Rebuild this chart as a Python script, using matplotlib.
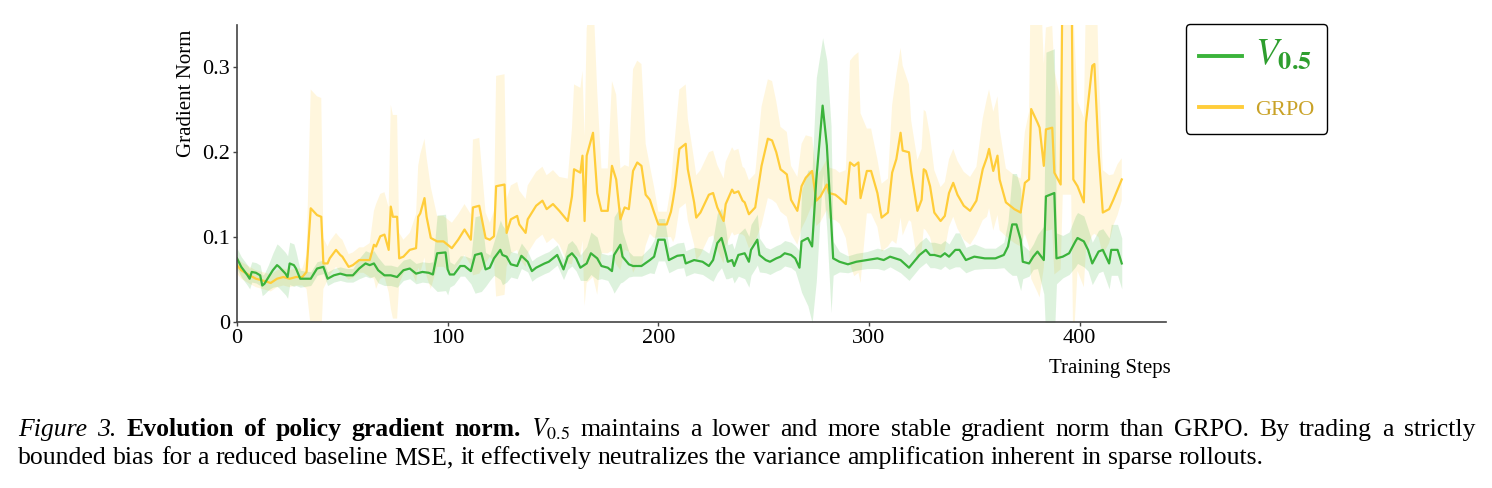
import numpy as np
import matplotlib
matplotlib.use("Agg")
import matplotlib.pyplot as plt

plt.rcParams['font.family'] = 'Liberation Serif'
plt.rcParams['mathtext.fontset'] = 'stix'

# V_0.5 : step, mean gradient norm, band half-width
v05_steps = [0, 2, 5, 6, 7, 9, 11, 12, 13, 15, 17, 19, 20, 23, 24, 25, 27, 28, 30, 35,
             38, 41, 43, 46, 49, 52, 55, 58, 61, 63, 65, 67, 70, 73, 76, 79, 82, 85, 88, 91,
             93, 95, 99, 100, 101, 103, 106, 108, 111, 113, 116, 118, 120, 122, 125, 126, 128, 130, 133, 135,
             138, 140, 142, 146, 148, 152, 155, 157, 159, 161, 163, 166, 168, 171, 173, 176, 178, 179, 182, 183,
             186, 188, 192, 196, 198, 200, 203, 205, 209, 212, 213, 217, 221, 224, 226, 228, 230, 232, 233, 235,
             236, 238, 241, 243, 244, 247, 248, 251, 253, 256, 258, 260, 263, 265, 267, 268, 271, 273, 275, 278,
             280, 282, 283, 286, 290, 294, 299, 304, 307, 310, 315, 319, 322, 324, 327, 329, 331, 334, 336, 338,
             341, 343, 346, 350, 355, 360, 364, 366, 368, 370, 372, 373, 376, 378, 380, 383, 384, 386, 388, 389,
             392, 395, 398, 399, 402, 404, 406, 409, 411, 414, 415, 418, 420]
v05_mean = [0.075, 0.065, 0.055, 0.051, 0.059, 0.058, 0.055, 0.043, 0.045, 0.053, 0.061, 0.067, 0.065, 0.057, 0.053, 0.069, 0.067, 0.063, 0.051, 0.051,
            0.063, 0.065, 0.051, 0.055, 0.057, 0.055, 0.055, 0.063, 0.069, 0.067, 0.069, 0.061, 0.055, 0.055, 0.053, 0.061, 0.063, 0.057, 0.059, 0.058,
            0.056, 0.081, 0.082, 0.062, 0.056, 0.056, 0.066, 0.066, 0.060, 0.079, 0.081, 0.062, 0.064, 0.075, 0.085, 0.079, 0.077, 0.068, 0.066, 0.078,
            0.071, 0.060, 0.064, 0.069, 0.071, 0.079, 0.062, 0.077, 0.081, 0.075, 0.064, 0.069, 0.081, 0.075, 0.066, 0.064, 0.060, 0.079, 0.091, 0.077,
            0.068, 0.066, 0.066, 0.073, 0.077, 0.097, 0.097, 0.073, 0.078, 0.079, 0.069, 0.073, 0.071, 0.066, 0.073, 0.093, 0.099, 0.081, 0.071, 0.073,
            0.066, 0.079, 0.081, 0.071, 0.085, 0.097, 0.079, 0.073, 0.071, 0.075, 0.077, 0.081, 0.079, 0.075, 0.064, 0.095, 0.099, 0.089, 0.168, 0.255,
            0.208, 0.121, 0.075, 0.071, 0.068, 0.071, 0.073, 0.075, 0.073, 0.077, 0.073, 0.064, 0.073, 0.079, 0.085, 0.079, 0.079, 0.077, 0.081, 0.077,
            0.085, 0.085, 0.073, 0.077, 0.075, 0.075, 0.079, 0.089, 0.115, 0.115, 0.097, 0.071, 0.069, 0.077, 0.083, 0.073, 0.148, 0.150, 0.152, 0.075,
            0.077, 0.081, 0.095, 0.099, 0.095, 0.085, 0.069, 0.083, 0.085, 0.069, 0.085, 0.085, 0.069]
v05_spread = [0.012, 0.012, 0.012, 0.012, 0.012, 0.012, 0.012, 0.012, 0.012, 0.015, 0.02, 0.025, 0.025, 0.025, 0.025, 0.025, 0.025, 0.02, 0.01, 0.008,
              0.008, 0.008, 0.008, 0.008, 0.008, 0.008, 0.008, 0.012, 0.015, 0.015, 0.015, 0.015, 0.012, 0.012, 0.012, 0.012, 0.012, 0.012, 0.012, 0.012,
              0.015, 0.045, 0.045, 0.03, 0.015, 0.012, 0.012, 0.012, 0.015, 0.045, 0.045, 0.02, 0.015, 0.02, 0.035, 0.035, 0.03, 0.015, 0.015, 0.015,
              0.012, 0.012, 0.012, 0.012, 0.012, 0.012, 0.012, 0.015, 0.015, 0.015, 0.015, 0.02, 0.025, 0.025, 0.015, 0.015, 0.02, 0.045, 0.045, 0.03,
              0.015, 0.012, 0.012, 0.015, 0.02, 0.025, 0.025, 0.015, 0.015, 0.015, 0.015, 0.015, 0.015, 0.015, 0.025, 0.035, 0.035, 0.03, 0.02, 0.02,
              0.02, 0.025, 0.03, 0.03, 0.03, 0.03, 0.02, 0.015, 0.015, 0.015, 0.015, 0.015, 0.015, 0.015, 0.02, 0.06, 0.08, 0.09, 0.12, 0.08,
              0.1, 0.11, 0.02, 0.012, 0.01, 0.01, 0.01, 0.012, 0.012, 0.012, 0.015, 0.015, 0.015, 0.015, 0.015, 0.015, 0.015, 0.015, 0.015, 0.015,
              0.02, 0.02, 0.015, 0.015, 0.012, 0.012, 0.015, 0.03, 0.06, 0.06, 0.06, 0.02, 0.015, 0.015, 0.02, 0.04, 0.17, 0.17, 0.17, 0.03,
              0.025, 0.025, 0.03, 0.03, 0.03, 0.025, 0.025, 0.025, 0.025, 0.03, 0.03, 0.03, 0.03]

# GRPO : step, mean gradient norm, band half-width
grpo_steps = [0, 2, 6, 9, 12, 16, 19, 22, 25, 28, 31, 33, 35, 38, 40, 41, 43, 44, 47, 49,
              50, 53, 55, 58, 60, 63, 65, 66, 68, 70, 72, 73, 74, 76, 77, 79, 82, 85, 86, 87,
              89, 90, 92, 95, 98, 102, 105, 108, 111, 112, 115, 118, 120, 122, 123, 127, 128, 130, 133, 134,
              137, 138, 142, 145, 147, 150, 153, 157, 159, 160, 163, 164, 165, 166, 169, 171, 173, 176, 178, 180,
              182, 184, 186, 188, 190, 192, 194, 196, 198, 200, 204, 206, 207, 208, 210, 213, 214, 217, 218, 220,
              224, 226, 228, 231, 232, 235, 236, 238, 240, 241, 243, 246, 249, 252, 254, 256, 258, 261, 263, 266,
              268, 270, 273, 275, 277, 280, 281, 284, 286, 289, 291, 293, 295, 296, 299, 301, 304, 306, 309, 311,
              313, 315, 316, 319, 320, 323, 325, 326, 327, 329, 331, 334, 336, 338, 340, 342, 345, 348, 351, 354,
              356, 357, 359, 361, 362, 365, 369, 372, 374, 376, 377, 380, 381, 383, 384, 387, 388, 391, 392, 396,
              397, 399, 402, 403, 406, 407, 409, 411, 414, 416, 418, 420]
grpo_mean = [0.067, 0.061, 0.055, 0.051, 0.049, 0.046, 0.051, 0.053, 0.051, 0.053, 0.053, 0.059, 0.134, 0.126, 0.124, 0.069, 0.069, 0.075, 0.085, 0.079,
             0.077, 0.065, 0.067, 0.073, 0.073, 0.073, 0.091, 0.089, 0.101, 0.103, 0.085, 0.136, 0.124, 0.124, 0.075, 0.077, 0.085, 0.087, 0.124, 0.128,
             0.146, 0.124, 0.099, 0.095, 0.095, 0.087, 0.097, 0.109, 0.097, 0.135, 0.137, 0.099, 0.097, 0.101, 0.160, 0.162, 0.105, 0.121, 0.125, 0.115,
             0.105, 0.121, 0.137, 0.143, 0.133, 0.139, 0.131, 0.119, 0.148, 0.180, 0.176, 0.196, 0.119, 0.196, 0.223, 0.152, 0.131, 0.131, 0.184, 0.168,
             0.121, 0.135, 0.133, 0.178, 0.188, 0.184, 0.150, 0.144, 0.129, 0.115, 0.115, 0.130, 0.144, 0.160, 0.204, 0.210, 0.180, 0.141, 0.123, 0.129,
             0.150, 0.152, 0.135, 0.119, 0.139, 0.156, 0.152, 0.154, 0.143, 0.141, 0.127, 0.135, 0.184, 0.216, 0.214, 0.200, 0.180, 0.174, 0.144, 0.131,
             0.160, 0.170, 0.178, 0.143, 0.148, 0.162, 0.152, 0.150, 0.146, 0.139, 0.188, 0.184, 0.188, 0.146, 0.178, 0.178, 0.152, 0.123, 0.129, 0.176,
             0.192, 0.223, 0.202, 0.200, 0.178, 0.131, 0.144, 0.180, 0.178, 0.160, 0.129, 0.119, 0.125, 0.152, 0.164, 0.150, 0.137, 0.131, 0.143, 0.180,
             0.194, 0.204, 0.178, 0.196, 0.168, 0.141, 0.133, 0.129, 0.164, 0.168, 0.251, 0.235, 0.229, 0.184, 0.227, 0.229, 0.176, 0.162, 0.450, 0.450,
             0.168, 0.160, 0.141, 0.235, 0.302, 0.304, 0.200, 0.129, 0.133, 0.144, 0.156, 0.168]
grpo_spread = [0.01, 0.01, 0.01, 0.01, 0.01, 0.01, 0.01, 0.01, 0.01, 0.01, 0.01, 0.02, 0.14, 0.14, 0.14, 0.03, 0.02, 0.02, 0.02, 0.02,
               0.02, 0.015, 0.015, 0.015, 0.015, 0.02, 0.04, 0.05, 0.05, 0.05, 0.05, 0.12, 0.12, 0.12, 0.03, 0.02, 0.02, 0.04, 0.06, 0.07,
               0.07, 0.07, 0.06, 0.03, 0.03, 0.03, 0.03, 0.03, 0.03, 0.08, 0.08, 0.03, 0.02, 0.03, 0.13, 0.13, 0.04, 0.04, 0.04, 0.04,
               0.04, 0.04, 0.04, 0.04, 0.04, 0.04, 0.04, 0.05, 0.08, 0.1, 0.1, 0.1, 0.1, 0.15, 0.17, 0.12, 0.05, 0.05, 0.1, 0.1,
               0.06, 0.05, 0.05, 0.12, 0.12, 0.12, 0.06, 0.04, 0.03, 0.015, 0.015, 0.03, 0.05, 0.06, 0.07, 0.07, 0.06, 0.05, 0.05, 0.05,
               0.05, 0.05, 0.05, 0.05, 0.05, 0.05, 0.05, 0.05, 0.04, 0.04, 0.04, 0.04, 0.07, 0.07, 0.07, 0.06, 0.05, 0.05, 0.04, 0.04,
               0.05, 0.05, 0.04, 0.03, 0.03, 0.03, 0.03, 0.03, 0.03, 0.04, 0.12, 0.13, 0.13, 0.1, 0.05, 0.05, 0.04, 0.04, 0.04, 0.08,
               0.1, 0.1, 0.1, 0.08, 0.06, 0.06, 0.06, 0.07, 0.07, 0.06, 0.05, 0.04, 0.04, 0.04, 0.04, 0.04, 0.04, 0.04, 0.04, 0.06,
               0.07, 0.07, 0.07, 0.07, 0.06, 0.04, 0.04, 0.04, 0.06, 0.08, 0.2, 0.2, 0.2, 0.12, 0.12, 0.12, 0.12, 0.1, 0.3, 0.3,
               0.2, 0.1, 0.1, 0.15, 0.2, 0.2, 0.1, 0.05, 0.04, 0.03, 0.03, 0.025]

green = '#3bb33b'
yellow = '#ffcd3a'

fig = plt.figure(figsize=(14.92, 4.88), dpi=100)
ax = fig.add_axes([237 / 1492, 1 - 322 / 488, 929 / 1492, 297 / 488])

for steps, mean, spread, col in [(grpo_steps, grpo_mean, grpo_spread, yellow),
                                 (v05_steps, v05_mean, v05_spread, green)]:
    m = np.array(mean)
    s = np.array(spread)
    ax.fill_between(steps, m - s, m + s, color=col, alpha=0.17, linewidth=0)

ax.plot(grpo_steps, grpo_mean, color=yellow, lw=1.6, label='GRPO')
ax.plot(v05_steps, v05_mean, color=green, lw=1.6, label=r'$V_{\mathbf{0.5}}$')

ax.set_xlim(0, 441)
ax.set_ylim(0, 0.35)
ax.set_xticks([0, 100, 200, 300, 400])
ax.set_yticks([0, 0.1, 0.2, 0.3])
ax.set_yticklabels(['0', '0.1', '0.2', '0.3'])
for side in ['top', 'right']:
    ax.spines[side].set_visible(False)
for side in ['left', 'bottom']:
    ax.spines[side].set_color('#444444')
    ax.spines[side].set_linewidth(1.2)
ax.tick_params(labelsize=16, length=3, width=1, color='#444444', pad=2)

ax.set_ylabel('Gradient Norm', fontsize=15)
ax.yaxis.set_label_coords(-0.044, 0.77)
ax.set_xlabel('Training Steps', fontsize=15, ha='right', va='center')
ax.xaxis.set_label_coords(1.005, -0.155)

handles, labels = ax.get_legend_handles_labels()
leg = fig.legend(handles[::-1], labels[::-1], loc='upper left',
                 bbox_to_anchor=(1186 / 1492, 1 - 24 / 488), borderaxespad=0,
                 fontsize=16, handlelength=1.9, handletextpad=0.6,
                 labelspacing=1.25, borderpad=0.6,
                 frameon=True, fancybox=True, framealpha=1, edgecolor='black')
leg.get_frame().set_linewidth(1.0)
for t, c, fs in zip(leg.get_texts(), ['#2e9e2e', '#c9a227'], [27, 16]):
    t.set_color(c)
    t.set_fontsize(fs)
for h in leg.get_lines():
    h.set_linewidth(2.8)

# caption, first line justified like the paper
renderer = fig.canvas.get_renderer()
W = fig.get_figwidth() * fig.dpi
H = fig.get_figheight() * fig.dpi
cap_fs = 18.5
space = 0.25 * cap_fs * fig.dpi / 72


def write_words(words, x_px, y_px, right_px=None):
    texts = []
    for word, style, weight in words:
        texts.append(fig.text(x_px / W, 1 - y_px / H, word, fontsize=cap_fs, style=style,
                              weight=weight, va='baseline', ha='left'))
    widths = [t.get_window_extent(renderer).width for t in texts]
    gap = space
    if right_px is not None:
        gap = (right_px - x_px - sum(widths)) / (len(texts) - 1)
    x = x_px
    for t, w in zip(texts, widths):
        t.set_x(x / W)
        x += w + gap


line1 = [(w, 'italic', 'normal') for w in 'Figure 3.'.split()]
line1 += [(w, 'normal', 'bold') for w in 'Evolution of policy gradient norm.'.split()]
line1 += [(r'$V_{0.5}$', 'normal', 'normal')]
line1 += [(w, 'normal', 'normal') for w in
          'maintains a lower and more stable gradient norm than GRPO. By trading a strictly'.split()]
line2 = [(w, 'normal', 'normal') for w in
         ('bounded bias for a reduced baseline MSE, it effectively neutralizes the variance '
          'amplification inherent in sparse rollouts.').split()]
write_words(line1, 18, 436, right_px=1475)
write_words(line2, 18, 464)

fig.savefig('out.png', dpi=100)
